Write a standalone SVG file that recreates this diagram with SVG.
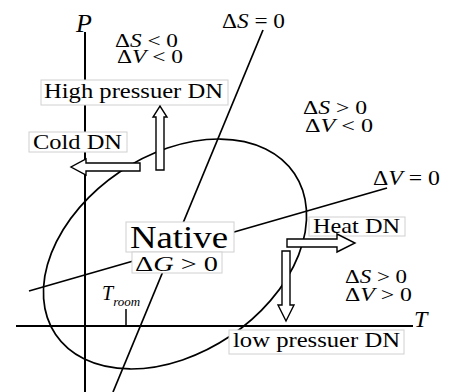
<svg xmlns="http://www.w3.org/2000/svg" width="453" height="392" viewBox="0 0 453 392">
<style>
text{font-family:"Liberation Serif","Times New Roman",serif;fill:#000}
.it{font-style:italic}
.ln{stroke:#000;fill:none}
.box{fill:#fff;stroke:#d0d0d0;stroke-width:1}
.arr{fill:#fff;stroke:#000;stroke-width:1.4;stroke-linejoin:miter}
</style>
<rect width="453" height="392" fill="#fff"/>
<g id="connectors">
<line class="ln" x1="85" y1="32" x2="85" y2="392" stroke-width="2"/>
<line class="ln" x1="16" y1="326" x2="413" y2="326" stroke-width="2"/>
<line class="ln" x1="263" y1="30" x2="113" y2="392" stroke-width="1.7"/>
<line class="ln" x1="387" y1="188" x2="29" y2="291" stroke-width="1.7"/>
<ellipse class="ln" cx="175" cy="254" rx="144" ry="99" transform="rotate(-34 175 254)" stroke-width="1.7"/>
<line class="ln" x1="126" y1="309" x2="126" y2="326" stroke-width="1.5"/>
</g>
<g id="axis-labels">
<text class="it" x="76" y="32" font-size="26">P</text>
<text class="it" x="414" y="327" font-size="24">T</text>
<text x="102" y="300" font-size="20"><tspan class="it">T</tspan><tspan class="it" font-size="13" dy="6">room</tspan></text>
</g>
<g id="region-labels">
<text x="222" y="28" font-size="20" textLength="63" lengthAdjust="spacingAndGlyphs">Δ<tspan class="it">S</tspan> = 0</text>
<text x="373" y="185" font-size="20" textLength="67" lengthAdjust="spacingAndGlyphs">Δ<tspan class="it">V</tspan> = 0</text>
<text x="115" y="47" font-size="19" textLength="63" lengthAdjust="spacingAndGlyphs">Δ<tspan class="it">S</tspan> &lt; 0</text>
<text x="117" y="63" font-size="19" textLength="66" lengthAdjust="spacingAndGlyphs">Δ<tspan class="it">V</tspan> &lt; 0</text>
<text x="303" y="114" font-size="19" textLength="64" lengthAdjust="spacingAndGlyphs">Δ<tspan class="it">S</tspan> &gt; 0</text>
<text x="305" y="132" font-size="19" textLength="68" lengthAdjust="spacingAndGlyphs">Δ<tspan class="it">V</tspan> &lt; 0</text>
<text x="345" y="283" font-size="19" textLength="62" lengthAdjust="spacingAndGlyphs">Δ<tspan class="it">S</tspan> &gt; 0</text>
<text x="345" y="301" font-size="19" textLength="67" lengthAdjust="spacingAndGlyphs">Δ<tspan class="it">V</tspan> &gt; 0</text>
</g>
<g id="native">
<rect class="box" x="126" y="222" width="108" height="30"/>
<rect class="box" x="132" y="252" width="90" height="21"/>
<text x="130" y="248" font-size="32" textLength="98" lengthAdjust="spacingAndGlyphs">Native</text>
<text x="135" y="271" font-size="22" textLength="83" lengthAdjust="spacingAndGlyphs">Δ<tspan class="it">G</tspan> &gt; 0</text>
</g>
<g id="high-pressure">
<rect class="box" x="41" y="80" width="187" height="25"/>
<text x="44" y="98" font-size="21" textLength="179" lengthAdjust="spacingAndGlyphs">High pressuer DN</text>
<polygon class="arr" points="156,170 156,117 153,117 160,106 167,117 164,117 164,170"/>
</g>
<g id="cold">
<rect class="box" x="29" y="132" width="98" height="20"/>
<text x="33" y="149" font-size="21" textLength="89" lengthAdjust="spacingAndGlyphs">Cold DN</text>
<polygon class="arr" points="140,163 86,163 86,159 71,167 86,175 86,171 140,171"/>
</g>
<g id="heat">
<rect class="box" x="309" y="217" width="96" height="19"/>
<text x="313" y="233" font-size="21" textLength="87" lengthAdjust="spacingAndGlyphs">Heat DN</text>
<polygon class="arr" points="287,239 337,239 337,234 355,243 337,252 337,247 287,247"/>
</g>
<g id="low-pressure">
<rect class="box" x="229" y="330" width="175" height="24"/>
<text x="233" y="347" font-size="21" textLength="167" lengthAdjust="spacingAndGlyphs">low pressuer DN</text>
<polygon class="arr" points="282,251 282,305 278,305 286,321 294,305 290,305 290,251"/>
</g>
</svg>
